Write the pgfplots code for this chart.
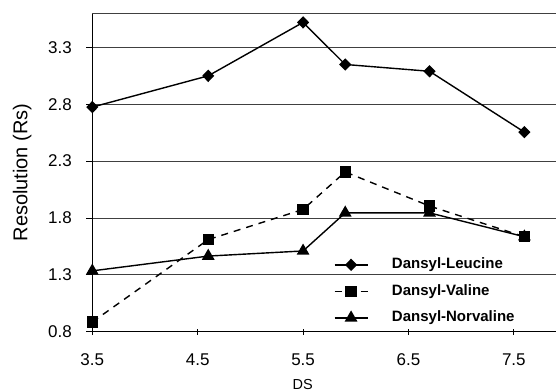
\documentclass[border=0pt]{standalone}
\usepackage{pgfplots}
\pgfplotsset{compat=1.18}
\usepackage{fontspec}
\setmainfont{Liberation Sans}
\begin{document}
\begin{tikzpicture}
\begin{axis}[
  name=ax,
  scale only axis,
  width=463.7pt, height=318.4pt,
  xmin=3.5, xmax=7.9, ymin=0.8, ymax=3.6,
  clip=false,
  axis x line*=bottom, axis y line*=left,
  axis line style={line width=1.1pt, -},
  xtick={3.5,4.5,5.5,6.5,7.5},
  ytick={0.8,1.3,1.8,2.3,2.8,3.3},
  xticklabels={3.5,4.5,5.5,6.5,7.5},
  yticklabels={0.8,1.3,1.8,2.3,2.8,3.3},
  x tick style={line width=0.8pt, black},
  y tick style={line width=0.8pt, black},
  xtick align=center, ytick align=outside,
  major tick length=6pt,
  ymajorgrids,
  grid style={line width=0.8pt, black!75},
  every tick label/.append style={font=\fontsize{17}{20}\selectfont, inner sep=0pt},
  xticklabel style={anchor=north, yshift=-19pt},
  yticklabel style={anchor=east, xshift=-14.3pt},
  ylabel={Resolution (Rs)},
  ylabel style={font=\fontsize{20}{24}\selectfont, at={(axis description cs:0,0.5)}, anchor=center, rotate=0, yshift=70pt},
  xlabel={DS},
  xlabel style={font=\fontsize{14.5}{17}\selectfont, at={(axis description cs:0.454,0)}, anchor=center, yshift=-53.3pt},
  legend cell align=left,
  legend style={draw=none, fill=none, inner sep=0pt, outer sep=0pt,
    at={(rel axis cs:0.521,0.232)}, anchor=north west,
    font=\bfseries\fontsize{15}{18}\selectfont,
    row sep=12.5pt,
    nodes={inner sep=0pt, text height=11pt, text depth=3pt},
    /tikz/every odd column/.append style={column sep=23.7pt}},
  legend image code/.code={\draw[mark repeat=2,mark phase=2] plot coordinates {(0pt,0pt) (16.5pt,0pt) (33pt,0pt)};},
]
\addplot[black, line width=1.4pt, mark=diamond*, mark size=5.2pt, mark options={solid, xscale=1.3}]
  coordinates {(3.5,2.775) (4.6,3.05) (5.5,3.52) (5.9,3.15) (6.7,3.09) (7.6,2.555)};
\addlegendentry{Dansyl-Leucine}
\addplot[black, line width=1.4pt, dash pattern=on 7pt off 6pt, mark=square*, mark size=5pt, mark options={solid}]
  coordinates {(3.5,0.885) (4.6,1.61) (5.5,1.875) (5.9,2.205) (6.7,1.905) (7.6,1.635)};
\addlegendentry{Dansyl-Valine}
\addplot[black, line width=1.4pt, mark=triangle*, mark size=6pt, mark options={solid}]
  coordinates {(3.5,1.335) (4.6,1.465) (5.5,1.51) (5.9,1.845) (6.7,1.845) (7.6,1.635)};
\addlegendentry{Dansyl-Norvaline}
\draw[line width=0.8pt, black!75] (rel axis cs:0,1) -- (rel axis cs:1,1);
\coordinate (bl) at (rel axis cs:0,0);
\coordinate (tr) at (rel axis cs:1,1);
\end{axis}
\pgfresetboundingbox
\path ([xshift=-92.3pt,yshift=-60.3pt]bl) rectangle ([yshift=13.3pt]tr);
\end{tikzpicture}
\end{document}
